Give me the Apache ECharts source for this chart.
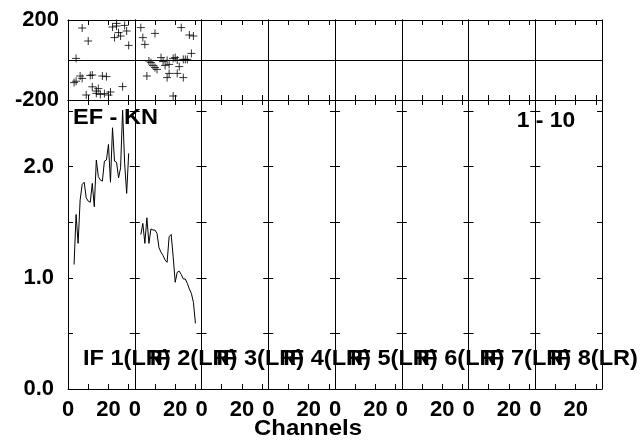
<!DOCTYPE html>
<html><head><meta charset="utf-8">
<script src="https://cdn.jsdelivr.net/npm/echarts@6/dist/echarts.min.js"></script>
<style>html,body{margin:0;padding:0;background:#fff}#c{width:641px;height:442px}</style>
</head><body><div id="c"></div>
<script>
// ---- data ----
const channels = [3,4,5,6,7,8,9,10,11,12,13,14,15,16,17,18,19,20,21,22,23,24,25,26,27,28,29,30];
const if1Amplitude = [1.12,1.57,1.31,1.70,1.84,1.86,1.72,1.69,1.68,1.85,1.64,2.06,1.91,1.88,1.87,2.05,2.06,2.20,1.86,2.35,2.05,2.04,1.90,1.99,2.51,2.03,1.76,2.12];
const if2Amplitude = [1.39,1.49,1.31,1.54,1.31,1.44,1.43,1.43,1.40,1.27,1.23,1.20,1.16,1.14,1.37,1.39,1.19,0.96,1.05,1.06,1.03,0.99,0.99,0.95,0.90,0.86,0.78,0.59];
const if1Phase = [[3,-113],[4,-106],[4,8],[6,-80],[7,-92],[7,160],[9,-175],[10,95],[11,-77],[12,-75],[12,-134],[14,-155],[14,-167],[15,-143],[16,-172],[17,-80],[18,-168],[19,-83],[20,-175],[21,-160],[22,165],[23,112],[24,183],[24,170],[25,137],[26,120],[27,-133],[28,173],[29,145],[30,73]];
const if2Phase = [[3,162],[4,112],[5,78],[6,-80],[7,-5],[8,-13],[9,-27],[10,-38],[10,133],[11,-47],[13,12],[14,-8],[15,-27],[16,-88],[16,-2],[17,-67],[17,-22],[19,-180],[19,8],[20,12],[21,0],[21,-67],[22,-33],[23,162],[24,-88],[24,3],[25,3],[26,3],[27,125],[28,33],[29,120]];
const ifLabels = ['IF 1(LR)','IF 2(LR)','IF 3(LR)','IF 4(LR)','IF 5(LR)','IF 6(LR)','IF 7(LR)','IF 8(LR)'];
const baselineLabel = 'EF - KN';
const timeLabel = '1 - 10';
const xAxisTitle = 'Channels';
const channelRange = [0, 33, 10];
const phaseRange = [-200, 200, 200];
const ampRange = [0, 2.6, 0.5];

// ---- layout ----
const FONT = '"Liberation Sans", Arial, sans-serif';
const L = 68, R = 602, W = (R - L) / 8, PT = 20, PB = 100, AB = 389;
const black = '#000';
const grids = [], xAxes = [], yAxes = [], series = [], graphics = [];
const lbl = {color: black, fontSize: 22, fontWeight: 'bold', fontFamily: FONT};
const TX = 1.07;

for (let p = 0; p < 8; p++) {
  for (let row = 0; row < 2; row++) {
    const g = p * 2 + row;
    grids.push({left: L + p * W, width: W, top: row ? PB : PT, height: row ? AB - PB : PB - PT, show: false});
    const xBase = {gridIndex: g, type: 'value', min: channelRange[0], max: channelRange[1], interval: channelRange[2],
      axisLine: {show: true, onZero: false, lineStyle: {color: black, width: 1}},
      axisTick: {show: true, inside: true, length: 5, lineStyle: {color: black, width: 1}},
      splitLine: {show: false}};
    xAxes.push(Object.assign({}, xBase, {position: 'bottom',
      axisLabel: Object.assign({show: row === 1, margin: 10, formatter: v => (v % 20 === 0 ? String(v) : '')}, lbl)}));
    xAxes.push(Object.assign({}, xBase, {position: 'top', axisLabel: {show: false}}));
    const rng = row ? ampRange : phaseRange;
    const yBase = {gridIndex: g, type: 'value', min: rng[0], max: rng[1], interval: rng[2],
      axisLine: {show: true, onZero: false, lineStyle: {color: black, width: 1}},
      axisTick: {show: true, inside: true, length: 5, lineStyle: {color: black, width: 1}}};
    yAxes.push(Object.assign({}, yBase, {position: 'left',
      splitLine: {show: row === 0, lineStyle: {color: black, width: 1}},
      axisLabel: Object.assign({show: p === 0, margin: row ? 14 : 9,
        formatter: row ? (v => (Math.abs(v - Math.round(v)) < 1e-6 && v <= 2 ? v.toFixed(1) : ''))
                       : (v => (v === 0 ? '' : String(v)))}, lbl)}));
    yAxes.push(Object.assign({}, yBase, {position: 'right', splitLine: {show: false}, axisLabel: {show: false}}));
  }
  graphics.push({type: 'text', x: 83 + p * W, y: 359, z: 100, scaleX: TX,
    style: {text: ifLabels[p], font: 'bold 22px ' + FONT, fill: black, align: 'left', verticalAlign: 'middle'}});
}

function ampSeries(panel, vals) {
  const g = panel * 2 + 1;
  return {type: 'line', xAxisIndex: 2 * g, yAxisIndex: 2 * g, data: channels.map((c, i) => [c, vals[i]]),
    showSymbol: false, symbol: 'none', lineStyle: {color: black, width: 1}, silent: true};
}
function phaseSeries(panel, pts) {
  const g = panel * 2;
  return {type: 'scatter', xAxisIndex: 2 * g, yAxisIndex: 2 * g, data: pts,
    symbol: 'path://M0,5L10,5M5,0L5,10', symbolSize: 8,
    itemStyle: {color: 'none', borderColor: black, borderWidth: 1}, silent: true};
}
series.push(ampSeries(0, if1Amplitude), ampSeries(1, if2Amplitude), phaseSeries(0, if1Phase), phaseSeries(1, if2Phase));

graphics.push({type: 'text', x: 73, y: 117.5, z: 100, scaleX: TX,
  style: {text: baselineLabel, font: 'bold 22px ' + FONT, fill: black, align: 'left', verticalAlign: 'middle'}});
graphics.push({type: 'text', x: 516.7, y: 121, z: 100, scaleX: 1.04,
  style: {text: timeLabel, font: 'bold 22px ' + FONT, fill: black, align: 'left', verticalAlign: 'middle'}});
graphics.push({type: 'text', x: 308, y: 429, z: 100, scaleX: 1.09,
  style: {text: xAxisTitle, font: 'bold 22px ' + FONT, fill: black, align: 'center', verticalAlign: 'middle'}});

const chart = echarts.init(document.getElementById('c'), null, {renderer: 'canvas'});
chart.setOption({animation: false, backgroundColor: '#fff', grid: grids, xAxis: xAxes, yAxis: yAxes, series: series, graphic: graphics});
</script></body></html>
